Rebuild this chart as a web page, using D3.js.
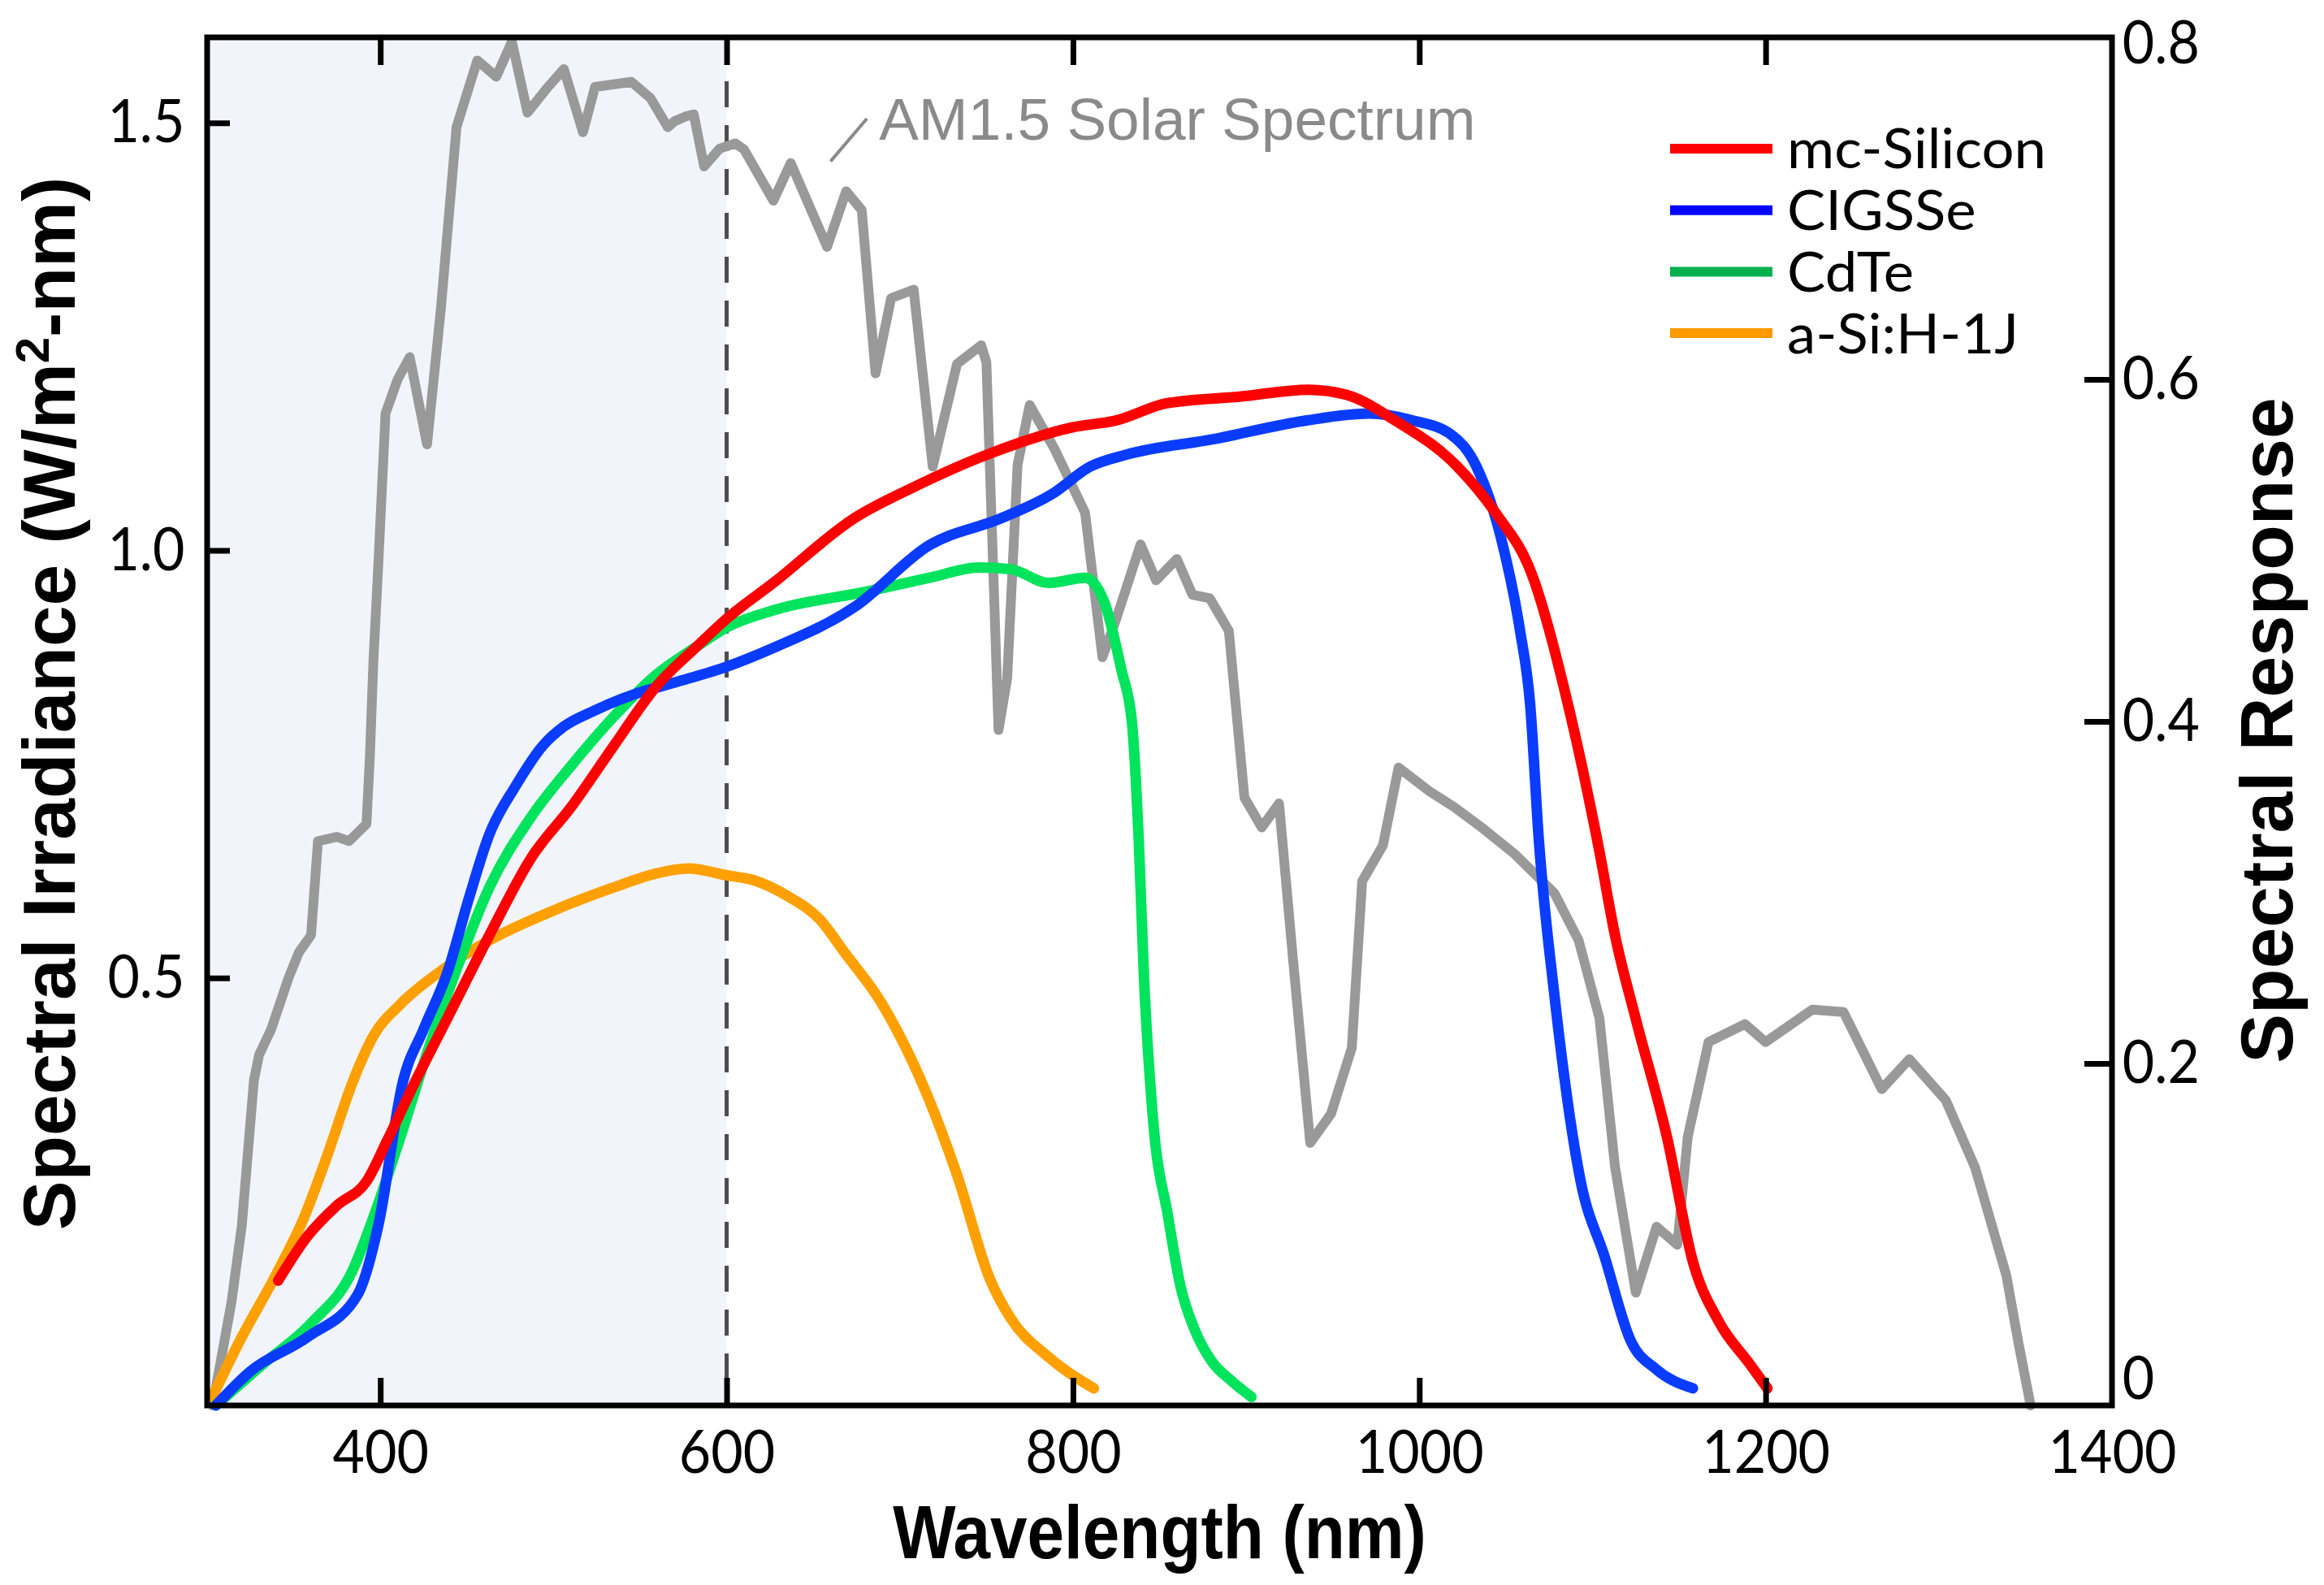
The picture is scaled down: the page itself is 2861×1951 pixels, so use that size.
<!DOCTYPE html>
<html>
<head>
<meta charset="utf-8">
<script src="https://cdnjs.cloudflare.com/ajax/libs/d3/7.8.5/d3.min.js"></script>
<style>
  html, body { margin: 0; padding: 0; background: #ffffff; }
  svg { display: block; }
</style>
</head>
<body>
<svg id="chart" width="2861" height="1951"></svg>
<script>
// ---------------- DATA ----------------
// AM1.5 solar spectrum (left axis, W/m^2-nm)
const solarWavelength = [303,305,314,320,327,330,337,347,353,360,364,375,382,392,394,396,399,403,410,417,427,435,444,456,467,476,485,496,506,517,524,545,556,566,570,577,581,587,596,605,610,627,637,658,669,678,686,695,708,719,733,747,750,757,762,768,775,789,807,817,825,839,848,860,869,879,890,899,909,919,927,937,949,961,967,979,988,1006,1020,1036,1055,1078,1092,1104,1113,1125,1137,1149,1155,1167,1188,1200,1227,1245,1267,1283,1304,1321,1339,1346,1353];
const solarIrradiance = [0.0,0.02,0.12,0.21,0.38,0.41,0.44,0.50,0.53,0.55,0.66,0.665,0.66,0.68,0.76,0.87,0.99,1.16,1.20,1.226,1.124,1.283,1.495,1.573,1.554,1.595,1.512,1.54,1.563,1.489,1.542,1.548,1.529,1.495,1.502,1.508,1.51,1.449,1.470,1.476,1.469,1.409,1.453,1.355,1.420,1.398,1.207,1.295,1.305,1.098,1.218,1.240,1.22,0.79,0.85,1.10,1.17,1.120,1.044,0.875,0.92,1.007,0.965,0.99,0.948,0.944,0.906,0.711,0.676,0.704,0.523,0.307,0.341,0.418,0.613,0.655,0.746,0.718,0.70,0.676,0.645,0.599,0.544,0.453,0.279,0.132,0.209,0.188,0.314,0.425,0.446,0.425,0.463,0.46,0.37,0.405,0.357,0.278,0.152,0.073,0.0];

// Spectral response (right axis)
const mcSiWavelength = [341,358,375,392,404,420,439,463,487,511,535,559,583,600,627,674,706,753,800,825,854,897,936,958,986,1022,1044,1065,1087,1104,1113,1125,1143,1158,1173,1191,1201];
const mcSiResponse   = [0.073,0.099,0.117,0.131,0.155,0.189,0.227,0.275,0.320,0.351,0.386,0.420,0.444,0.460,0.481,0.519,0.536,0.557,0.572,0.576,0.586,0.590,0.594,0.591,0.576,0.549,0.522,0.486,0.405,0.324,0.275,0.226,0.157,0.084,0.049,0.024,0.010];

const cigsWavelength = [305,325,358,387,399,413,425,439,451,463,478,494,506,523,547,571,600,627,674,717,759,788,810,831,881,935,971,996,1018,1033,1047,1058,1064,1069,1078,1093,1107,1122,1137,1158];
const cigsResponse   = [0.0,0.02,0.04,0.065,0.106,0.189,0.22,0.254,0.296,0.334,0.362,0.386,0.397,0.406,0.416,0.423,0.432,0.443,0.467,0.503,0.519,0.533,0.549,0.556,0.565,0.576,0.580,0.576,0.568,0.549,0.508,0.454,0.41,0.331,0.240,0.132,0.087,0.038,0.021,0.010];

const cdteWavelength = [305,332,360,384,396,411,427,444,463,487,511,535,559,583,600,627,681,717,746,764,786,807,818,828,834,838,841,846,855,862,870,880,892,903];
const cdteResponse   = [0.0,0.024,0.048,0.079,0.11,0.155,0.206,0.255,0.303,0.344,0.375,0.403,0.427,0.444,0.455,0.465,0.476,0.484,0.490,0.489,0.481,0.484,0.470,0.430,0.40,0.33,0.25,0.17,0.11,0.07,0.045,0.026,0.014,0.005];

const asiWavelength = [303,320,339,356,370,384,396,411,435,463,499,535,559,578,600,616,635,654,668,689,716,733,752,764,785,812];
const asiResponse   = [0.005,0.04,0.075,0.11,0.148,0.189,0.216,0.234,0.254,0.272,0.289,0.303,0.311,0.314,0.310,0.307,0.298,0.284,0.265,0.236,0.181,0.135,0.074,0.051,0.029,0.010];

const seriesNames   = ["mc-Silicon", "CIGSSe", "CdTe", "a-Si:H-1J"];
const lineColors    = ["#ff0000", "#0a3cff", "#00e35c", "#ffa000"];
const legendColors  = ["#ff0000", "#0000ff", "#00b04f", "#ff9900"];

const xTickValues      = [400, 600, 800, 1000, 1200, 1400];
const xTopTickValues   = [400, 600, 800, 1000, 1200];
const leftTickValues   = [0.5, 1.0, 1.5];
const rightTickValues  = [0, 0.2, 0.4, 0.6, 0.8];

const visibleBand = [300, 600];
const annotationText = "AM1.5 Solar Spectrum";

// ---------------- LAYOUT ----------------
const W = 2861, H = 1951;
const plot = { left: 255, right: 2600, top: 46, bottom: 1730 };
const svg = d3.select("#chart");
svg.append("rect").attr("width", W).attr("height", H).attr("fill", "#ffffff");

const x  = d3.scaleLinear().domain([300, 1400]).range([plot.left, plot.right]);
const yL = d3.scaleLinear().domain([0, 1.6]).range([plot.bottom, plot.top]);
const yR = d3.scaleLinear().domain([0, 0.8]).range([plot.bottom, plot.top]);

// shaded visible band
svg.append("rect")
  .attr("x", x(visibleBand[0]))
  .attr("y", plot.top)
  .attr("width", x(visibleBand[1]) - x(visibleBand[0]))
  .attr("height", plot.bottom - plot.top)
  .attr("fill", "#f1f5fb");

// dashed line at 600 nm
svg.append("line")
  .attr("x1", x(visibleBand[1])).attr("x2", x(visibleBand[1]))
  .attr("y1", plot.top).attr("y2", plot.bottom)
  .attr("stroke", "#4d4d4d").attr("stroke-width", 5)
  .attr("stroke-dasharray", "32,22");

// solar spectrum
const solarData = solarWavelength.map((w, i) => [w, solarIrradiance[i]]);
svg.append("path")
  .datum(solarData)
  .attr("fill", "none")
  .attr("stroke", "#999999")
  .attr("stroke-width", 12)
  .attr("stroke-linejoin", "round")
  .attr("stroke-linecap", "round")
  .attr("d", d3.line().x(d => x(d[0])).y(d => yL(d[1])));

// response curves
const seriesWl  = [mcSiWavelength, cigsWavelength, cdteWavelength, asiWavelength];
const seriesVal = [mcSiResponse, cigsResponse, cdteResponse, asiResponse];
const respLine = d3.line().x(d => x(d[0])).y(d => yR(d[1])).curve(d3.curveMonotoneX);
[3, 2, 1, 0].forEach(k => {
  const data = seriesWl[k].map((w, i) => [w, seriesVal[k][i]]);
  svg.append("path")
    .datum(data)
    .attr("fill", "none")
    .attr("stroke", lineColors[k])
    .attr("stroke-width", 13)
    .attr("stroke-linejoin", "round")
    .attr("stroke-linecap", "round")
    .attr("d", respLine);
});

// ---------------- AXES ----------------
const tickFont = "Lato, 'Open Sans', sans-serif";
function styleAxis(g) {
  g.select(".domain").remove();
  g.selectAll(".tick line").attr("stroke", "#000").attr("stroke-width", 7);
  g.selectAll(".tick text")
    .attr("font-family", tickFont)
    .attr("font-size", 74)
    .attr("fill", "#000");
}

const gBottom = svg.append("g")
  .attr("transform", `translate(0,${plot.bottom})`)
  .call(d3.axisBottom(x).tickValues(xTickValues).tickSizeInner(-34).tickSizeOuter(0).tickPadding(30).tickFormat(d3.format("d")))
  .call(styleAxis);
gBottom.selectAll(".tick text").attr("transform", "scale(0.92,1)");
gBottom.selectAll(".tick").filter(d => d === 1400).select("line").remove();

svg.append("g")
  .attr("transform", `translate(0,${plot.top})`)
  .call(d3.axisTop(x).tickValues(xTopTickValues).tickSizeInner(-34).tickSizeOuter(0).tickFormat(""))
  .call(styleAxis);

const gLeft = svg.append("g")
  .attr("transform", `translate(${plot.left},0)`)
  .call(d3.axisLeft(yL).tickValues(leftTickValues).tickSizeInner(-28).tickSizeOuter(0).tickPadding(30).tickFormat(d3.format(".1f")))
  .call(styleAxis);
gLeft.selectAll(".tick text").attr("transform", "scale(0.92,1)");

const gRight = svg.append("g")
  .attr("transform", `translate(${plot.right},0)`)
  .call(d3.axisRight(yR).tickValues(rightTickValues).tickSizeInner(-34).tickSizeOuter(0).tickPadding(14)
        .tickFormat(d => d === 0 ? "0" : d3.format(".1f")(d)))
  .call(styleAxis);
gRight.selectAll(".tick text").attr("transform", "scale(0.92,1)");
gRight.selectAll(".tick").filter(d => d === 0 || d === 0.8).select("line").remove();
// end labels nudged so they stay clear of the canvas edge / the 1400 label
gRight.selectAll(".tick").filter(d => d === 0.8).select("text").attr("dy", "0.42em");
gRight.selectAll(".tick").filter(d => d === 0).select("text").attr("dy", "-0.12em");

// frame
svg.append("rect")
  .attr("x", plot.left).attr("y", plot.top)
  .attr("width", plot.right - plot.left).attr("height", plot.bottom - plot.top)
  .attr("fill", "none").attr("stroke", "#000").attr("stroke-width", 7);

// ---------------- TITLES ----------------
const titleFont = "'Liberation Sans', Arial, Helvetica, sans-serif";

svg.append("text")
  .attr("transform", `translate(${(plot.left + plot.right) / 2},1918) scale(0.89,1)`)
  .attr("text-anchor", "middle")
  .attr("font-family", titleFont).attr("font-weight", "bold").attr("font-size", 92)
  .attr("fill", "#000")
  .text("Wavelength (nm)");

const leftTitle = svg.append("text")
  .attr("transform", `translate(92,866) rotate(-90)`)
  .attr("text-anchor", "middle")
  .attr("font-family", titleFont).attr("font-weight", "bold").attr("font-size", 91)
  .attr("fill", "#000");
leftTitle.append("tspan").text("Spectral Irradiance (W/m");
leftTitle.append("tspan").attr("dy", -32).attr("font-size", 58).text("2");
leftTitle.append("tspan").attr("dy", 32).text("-nm)");

svg.append("text")
  .attr("transform", `translate(2822,899) rotate(-90)`)
  .attr("text-anchor", "middle")
  .attr("font-family", titleFont).attr("font-weight", "bold").attr("font-size", 91)
  .attr("fill", "#000")
  .text("Spectral Response");

// ---------------- ANNOTATION ----------------
svg.append("line")
  .attr("x1", x(660)).attr("y1", yL(1.455))
  .attr("x2", x(681)).attr("y2", yL(1.505))
  .attr("stroke", "#8a8a8a").attr("stroke-width", 4);
svg.append("text")
  .attr("x", x(688)).attr("y", yL(1.48))
  .attr("font-family", titleFont).attr("font-size", 73)
  .attr("fill", "#8a8a8a")
  .text(annotationText);

// ---------------- LEGEND ----------------
const legend = svg.append("g").attr("transform", "translate(2056,183)");
seriesNames.forEach((name, i) => {
  const g = legend.append("g").attr("transform", `translate(0,${i * 75.7})`);
  g.append("line").attr("x1", 0).attr("x2", 126).attr("y1", 0).attr("y2", 0)
    .attr("stroke", legendColors[i]).attr("stroke-width", 12);
  g.append("text").attr("x", 144).attr("y", 0).attr("dy", "0.36em")
    .attr("font-family", tickFont).attr("font-size", 68).attr("fill", "#000")
    .attr("transform", "translate(144,0) scale(1.04,1) translate(-144,0)")
    .text(name);
});
</script>
</body>
</html>
